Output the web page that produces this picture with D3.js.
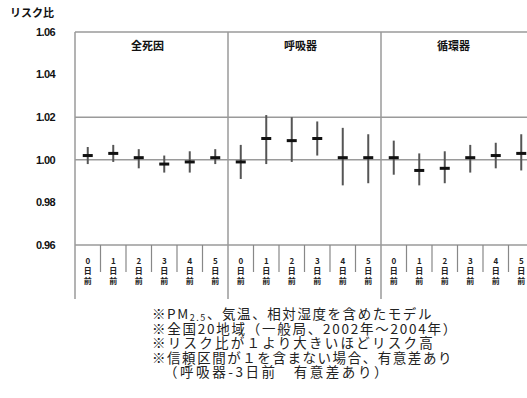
<!DOCTYPE html>
<html>
<head>
<meta charset="utf-8">
<script src="https://cdn.jsdelivr.net/npm/d3@7"></script>
<style>
  body { margin: 0; background: #fff; }
  svg { display: block; }
</style>
</head>
<body>
<svg id="chart"></svg>
<script>
// panels and lag days
const panels = ["全死因", "呼吸器", "循環器"];
const lags = ["0", "1", "2", "3", "4", "5"];

// risk ratio and 95% CI
const rrAll  = [1.002, 1.003, 1.001, 0.998, 0.999, 1.001];
const loAll  = [0.998, 0.999, 0.996, 0.994, 0.994, 0.998];
const hiAll  = [1.006, 1.007, 1.005, 1.002, 1.004, 1.005];
const rrResp = [0.999, 1.010, 1.009, 1.010, 1.001, 1.001];
const loResp = [0.991, 0.998, 0.999, 1.002, 0.988, 0.989];
const hiResp = [1.007, 1.021, 1.020, 1.018, 1.015, 1.012];
const rrCirc = [1.001, 0.995, 0.996, 1.001, 1.002, 1.003];
const loCirc = [0.993, 0.988, 0.989, 0.994, 0.996, 0.995];
const hiCirc = [1.009, 1.003, 1.004, 1.007, 1.008, 1.012];

const yTicks = [0.96, 0.98, 1.00, 1.02, 1.04, 1.06];
const gridValues = [1.06, 1.02, 1.00, 0.96];

const notes = [
    "※PM|2.5|、気温、相対湿度を含めたモデル",
    "※全国20地域（一般局、2002年～2004年）",
    "※リスク比が１より大きいほどリスク高",
    "※信頼区間が１を含まない場合、有意差あり",
    "（呼吸器-3日前　有意差あり）"
];
// measured extents of each note line in the picture
const noteX = [152, 152, 152, 152, 164];
const noteW = [281, 306, 283, 301, 226];

const width = 527, height = 398;
const svg = d3.select("#chart").attr("width", width).attr("height", height);

const left = 75, panelW = 153;
const xPanel = d3.scaleBand().domain(panels).range([left, left + panelW * panels.length]);
const xLag = d3.scaleBand().domain(lags).range([0, xPanel.bandwidth()]);
const y = d3.scaleLinear().domain([0.96, 1.06]).range([245, 32]);

let series = {};
series["全死因"] = lags.map((l, i) => ({lag: l, rr: rrAll[i], lo: loAll[i], hi: hiAll[i]}));
series["呼吸器"] = lags.map((l, i) => ({lag: l, rr: rrResp[i], lo: loResp[i], hi: hiResp[i]}));
series["循環器"] = lags.map((l, i) => ({lag: l, rr: rrCirc[i], lo: loCirc[i], hi: hiCirc[i]}));

const jp = "'Noto Sans CJK JP', sans-serif";
const gridColor = "#9a9a9a";

// horizontal lines
svg.selectAll(".hgrid").data(gridValues).enter().append("line")
    .attr("class", "hgrid")
    .attr("x1", left).attr("x2", xPanel.range()[1])
    .attr("y1", d => y(d)).attr("y2", d => y(d))
    .attr("stroke", gridColor).attr("stroke-width", 1.5);

// y axis labels
svg.selectAll(".ylab").data(yTicks).enter().append("text")
    .attr("class", "ylab")
    .attr("x", 55).attr("y", d => y(d))
    .attr("dy", "0.35em")
    .attr("text-anchor", "end")
    .style("font-family", "'Liberation Sans', Arial, sans-serif")
    .style("font-size", "11px").style("font-weight", "bold")
    .style("letter-spacing", "-0.6px")
    .attr("fill", "#111")
    .text(d => d3.format(".2f")(d));

svg.append("text")
    .attr("x", 10).attr("y", 17)
    .style("font-family", jp).style("font-size", "11px").style("font-weight", "bold")
    .attr("fill", "#111")
    .text("リスク比");

// vertical panel borders
let borders = panels.map(p => xPanel(p));
svg.selectAll(".vline").data(borders).enter().append("line")
    .attr("class", "vline")
    .attr("x1", d => d).attr("x2", d => d)
    .attr("y1", y(1.06)).attr("y2", 299)
    .attr("stroke", gridColor).attr("stroke-width", 1.5);

panels.forEach(function(p) {
    let g = svg.append("g").attr("transform", "translate(" + xPanel(p) + ",0)");

    g.append("text")
        .attr("x", xPanel.bandwidth() / 2 - 4).attr("y", 50)
        .attr("text-anchor", "middle")
        .style("font-family", jp).style("font-size", "11px").style("font-weight", "bold")
        .attr("fill", "#111")
        .text(p);

    // tick marks between categories
    g.selectAll(".tick").data(lags.slice(1)).enter().append("line")
        .attr("x1", d => xLag(d)).attr("x2", d => xLag(d))
        .attr("y1", y(0.96)).attr("y2", 272)
        .attr("stroke", "#888").attr("stroke-width", 1.2);

    // stacked category labels: "N", "日", "前"
    let lab = g.selectAll(".cat").data(lags).enter().append("g")
        .attr("transform", d => "translate(" + (xLag(d) + xLag.bandwidth() / 2) + ",0)");
    lab.selectAll("text").data(d => [d, "日", "前"]).enter().append("text")
        .attr("x", 0).attr("y", (d, i) => 264 + i * 10)
        .attr("text-anchor", "middle")
        .style("font-family", jp).style("font-size", "8px").style("font-weight", "bold")
        .attr("fill", "#222")
        .text(d => d);

    let pts = g.selectAll(".pt").data(series[p]).enter().append("g")
        .attr("transform", d => "translate(" + (xLag(d.lag) + xLag.bandwidth() / 2) + ",0)");
    pts.append("line")
        .attr("x1", 0).attr("x2", 0)
        .attr("y1", d => y(d.hi)).attr("y2", d => y(d.lo))
        .attr("stroke", "#555").attr("stroke-width", 2);
    pts.append("rect")
        .attr("x", -5).attr("width", 10)
        .attr("y", d => y(d.rr) - 1.5).attr("height", 3)
        .attr("fill", "#111");
});

// footnotes, spread to the measured widths
let noteG = svg.append("g")
    .style("font-family", jp).style("font-size", "13.5px")
    .attr("fill", "#222");
notes.forEach(function(n, i) {
    let t = noteG.append("text")
        .attr("x", noteX[i])
        .attr("y", 319 + i * 14.5);
    let parts = n.split("|");
    t.append("tspan").text(parts[0]);
    if (parts.length > 1) {
        t.append("tspan").attr("dy", 2).style("font-size", "9px").text(parts[1]);
        t.append("tspan").attr("dy", -2).text(parts[2]);
    }
    let len = t.node().getComputedTextLength();
    let chars = parts.join("").length;
    t.style("letter-spacing", ((noteW[i] - len) / chars) + "px");
});
</script>
</body>
</html>
